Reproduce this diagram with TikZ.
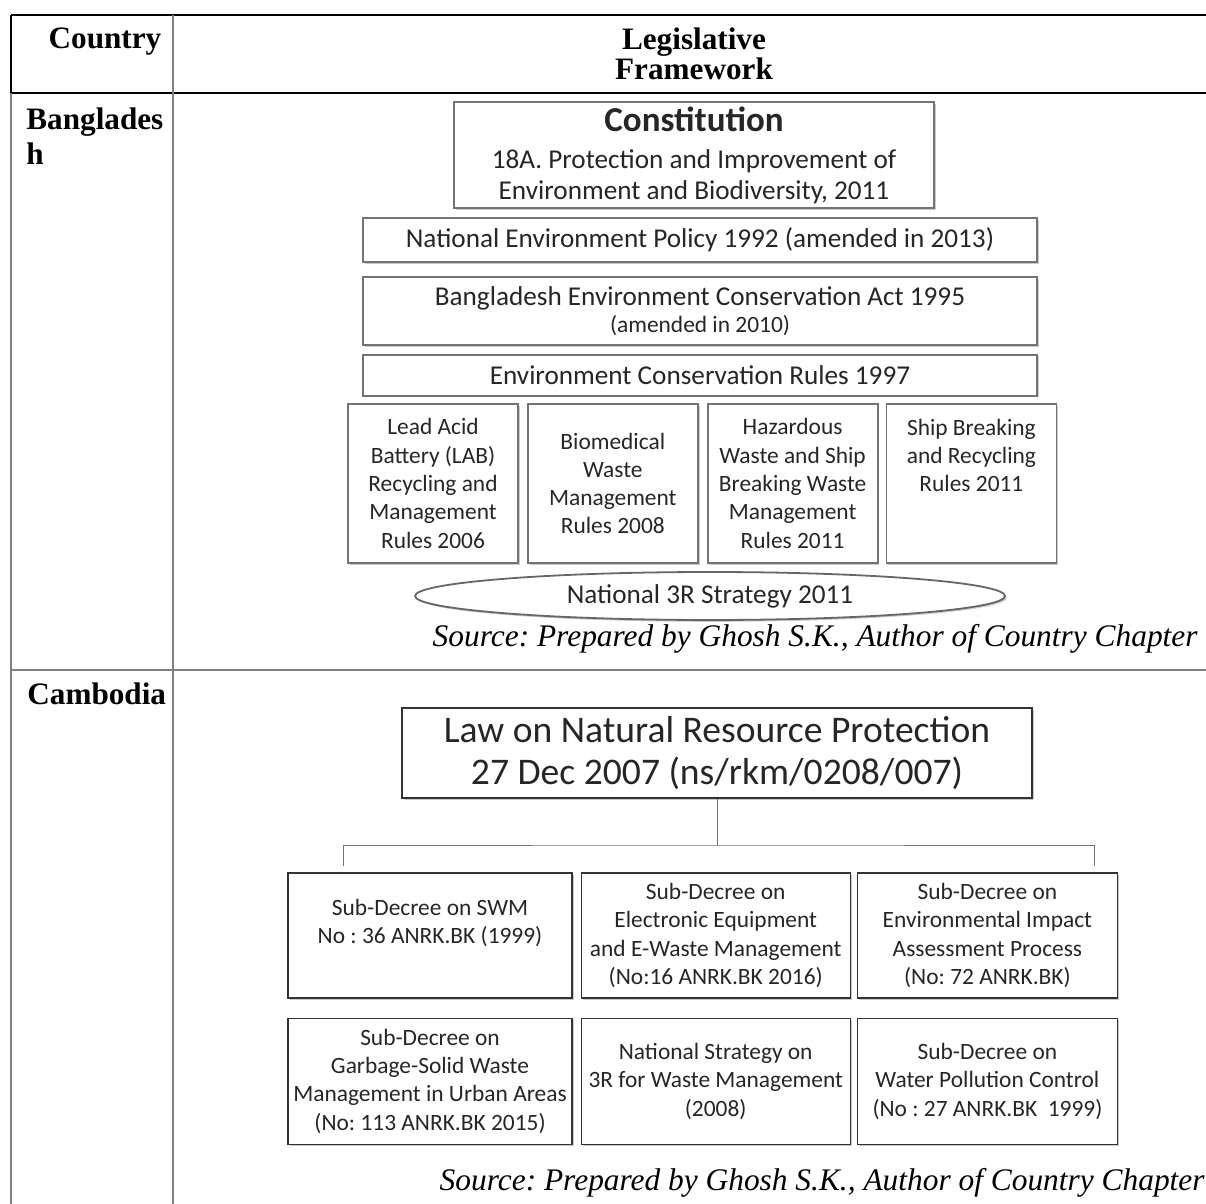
\documentclass[tikz,border=0pt]{standalone}
\usepackage{fontspec}
\setmainfont{Liberation Serif}
\newfontfamily\calibri{Carlito}
\usepackage{tikz}
\usetikzlibrary{positioning, shapes.geometric, shadows}

\begin{document}
\frenchspacing
\begin{tikzpicture}[
    x=0.5pt, y=-0.5pt,
    head/.style={font=\bfseries\fontsize{15.6}{17.5}\selectfont, inner sep=0pt},
    source/.style={font=\itshape\fontsize{15.7}{18}\selectfont, inner sep=0pt, anchor=base east},
    headline/.style={black, line width=1pt},
    gridline/.style={black!50, line width=1pt},
    lift/.style={drop shadow={shadow xshift=0.9pt, shadow yshift=-0.9pt, opacity=0.35, fill=black!60}},
    tier/.style={rectangle, draw=black!55, line width=0.9pt, fill=white, lift, align=center, inner sep=0pt, text=black!85, font=\calibri\fontsize{13.6}{15.5}\selectfont, minimum width=337pt},
    rules/.style={tier, font=\calibri\fontsize{11.7}{14.15}\selectfont, minimum width=85pt, minimum height=79.5pt},
    ring/.style={ellipse, draw=black!60, line width=0.9pt, fill=white, lift, inner sep=0pt, text=black!85, font=\calibri\fontsize{13.6}{15.5}\selectfont},
    decree/.style={rectangle, draw=black!80, line width=0.6pt, fill=white, lift, align=center, inner sep=0pt, text=black!85, font=\calibri\fontsize{11.7}{14.15}\selectfont, minimum height=62.5pt},
    tree/.style={draw=black!55, line width=0.5pt}
]
    \useasboundingbox (0,0) rectangle (1206,1204);

    % Table frame
    \draw[headline] (11,15) -- (1206,15);
    \draw[headline] (11,15) -- (11,93);
    \draw[headline] (11,93) -- (1206,93);
    \draw[gridline] (173,15) -- (173,1204);
    \draw[gridline] (11,93) -- (11,1204);
    \draw[gridline] (11,670) -- (1206,670);

    % Header row
    \node[head, anchor=base] (country) at (105,49) {Country};
    \node[head, align=center, font=\bfseries\fontsize{15.6}{15}\selectfont] (legis) at (694,54) {Legislative\\Framework};

    % Country names
    \node[head, align=left, anchor=north west] (bgd) at (26,107) {Banglades\\h};
    \node[head, anchor=base west] (khm) at (27,704) {Cambodia};

    % Bangladesh: constitution and acts
    \node[tier, minimum width=240pt, minimum height=53pt] (const) at (694,155)
        {{\bfseries\fontsize{17.5}{20}\selectfont Constitution}\\[3pt]18A. Protection and Improvement of\\Environment and Biodiversity, 2011};
    \node[tier, minimum height=22pt] (policy) at (700,240) {National Environment Policy 1992 (amended in 2013)};
    \node[tier, minimum height=34pt, below=6.5pt of policy] (act) {Bangladesh Environment Conservation Act 1995\\[-2pt]{\fontsize{11.7}{14}\selectfont (amended in 2010)}};
    \node[tier, minimum height=20.5pt, below=4pt of act] (ecr) {Environment Conservation Rules 1997};

    % Bangladesh: rules
    \node[rules] (lab) at (433,483.5) {Lead Acid\\Battery (LAB)\\Recycling and\\Management\\Rules 2006};
    \node[rules, right=4pt of lab] (bmw) {Biomedical\\Waste\\Management\\Rules 2008};
    \node[rules, right=4pt of bmw] (hws) {Hazardous\\Waste and Ship\\Breaking Waste\\Management\\Rules 2011};
    \node[rules, right=3.5pt of hws] (sbr) {Ship Breaking\\and Recycling\\Rules 2011\\\mbox{}\\\mbox{}};

    % Bangladesh: strategy
    \node[ring, minimum width=295pt, minimum height=24pt] (threer) at (710,596) {National 3R Strategy 2011};
    \node[source] (srcbgd) at (1198,646) {Source: Prepared by Ghosh S.K., Author of Country Chapter};

    % Cambodia: law
    \node[decree, minimum width=315pt, minimum height=45pt, font=\calibri\fontsize{18.8}{21}\selectfont] (law) at (717,753)
        {Law on Natural Resource Protection\\27 Dec 2007 (ns/rkm/0208/007)};

    % Cambodia: sub-decrees
    \node[decree, minimum width=142pt] (swm) at (430,935.5) {Sub-Decree on SWM\\No : 36 ANRK.BK (1999)\\\mbox{}};
    \node[decree, minimum width=134.5pt, right=4pt of swm] (ewaste) {Sub-Decree on\\Electronic Equipment\\and E-Waste Management\\(No:16 ANRK.BK 2016)};
    \node[decree, minimum width=130pt, right=3pt of ewaste] (eia) {Sub-Decree on\\Environmental Impact\\Assessment Process\\(No: 72 ANRK.BK)};
    \node[decree, minimum width=142pt, minimum height=63pt, below=9.5pt of swm] (garbage) {Sub-Decree on\\Garbage-Solid Waste\\Management in Urban Areas\\(No: 113 ANRK.BK 2015)};
    \node[decree, minimum width=134.5pt, minimum height=63pt, below=9.5pt of ewaste] (strategy) {National Strategy on\\3R for Waste Management\\(2008)};
    \node[decree, minimum width=130pt, minimum height=63pt, below=9.5pt of eia] (water) {Sub-Decree on\\Water Pollution Control\\(No : 27 ANRK.BK\ \ 1999)};

    % Tree lines
    \coordinate (bar) at (717,845);
    \coordinate (dropL) at (343,866);
    \coordinate (dropR) at (1094,866);
    \draw[tree] (law.south) -- (bar);
    \draw[tree] (dropL) |- (bar) -| (dropR);

    \node[source] (srckhm) at (1205,1190) {Source: Prepared by Ghosh S.K., Author of Country Chapter};

\end{tikzpicture}
\end{document}
